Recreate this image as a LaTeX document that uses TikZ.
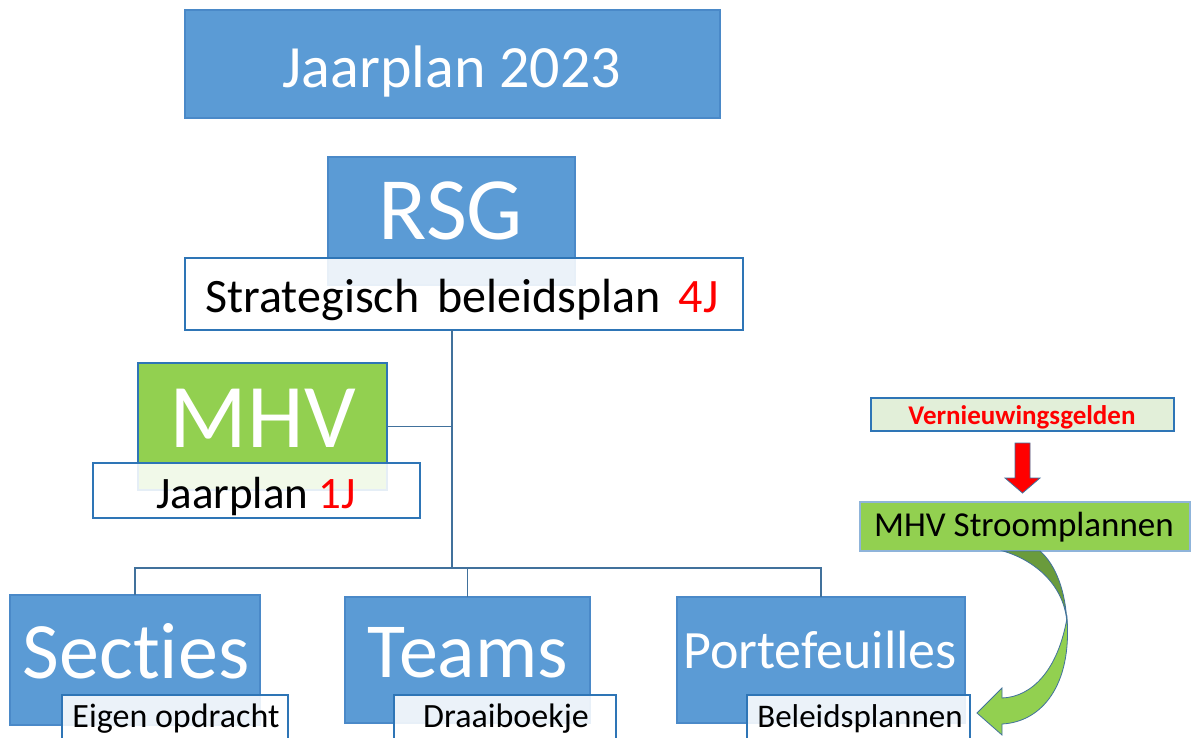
\documentclass[tikz,border=0pt]{standalone}
\usepackage{fontspec}
\setmainfont{Carlito}[Ligatures=NoCommon]
\usetikzlibrary{calc}
\definecolor{bfill}{HTML}{5B9BD5}
\definecolor{bdraw}{HTML}{4A89C8}
\definecolor{gfill}{HTML}{92D050}
\definecolor{lline}{HTML}{2E75B6}
\definecolor{cline}{HTML}{41719C}
\definecolor{vfill}{HTML}{E2EFD9}
\definecolor{sline}{HTML}{8FB4DA}
\definecolor{dgreen}{HTML}{6A9B3C}
\definecolor{redtxt}{HTML}{FF0000}
\begin{document}
\begin{tikzpicture}[x=1pt,y=-1pt,
  box/.style={rectangle, inner sep=0pt, outer sep=0pt, line width=1.2pt},
  bluebox/.style={box, fill=bfill, draw=bdraw},
  greenbox/.style={box, fill=gfill, draw=lline},
  labelbox/.style={box, fill=white, fill opacity=0.88, draw=lline, draw opacity=1},
  txt/.style={inner sep=0pt, outer sep=0pt, anchor=base},
  conn/.style={draw=cline, line width=1.6pt},
  sz/.style={font=\fontsize{#1}{#1}\selectfont}]
\clip (0,0) rectangle (1199,738);
\fill[white] (0,0) rectangle (1199,738);

% boxes
\node[bluebox, minimum width=535pt, minimum height=108pt] (jp) at (452.5,64) {};
\node[bluebox, minimum width=247pt, minimum height=128pt] (rsg) at (451.5,221) {};
\node[labelbox, minimum width=558pt, minimum height=72pt] (strat) at (464,294) {};
\node[greenbox, minimum width=249pt, minimum height=127pt] (mhv) at (262.5,426.5) {};
\node[labelbox, minimum width=327pt, minimum height=55pt] (jaar) at (256.5,490.5) {};

\node[bluebox, minimum width=250pt, minimum height=130pt] (secties) at (135,660) {};
\node[labelbox, minimum width=226pt, minimum height=65pt] (eigen) at (175,727.5) {};
\node[bluebox, minimum width=245pt, minimum height=126pt] (teams) at (467.5,660) {};
\node[labelbox, minimum width=222pt, minimum height=65pt] (draai) at (505,727.5) {};
\node[bluebox, minimum width=288pt, minimum height=126pt] (portef) at (821,660) {};
\node[labelbox, minimum width=223pt, minimum height=65pt] (beleid) at (858.5,727.5) {};

\node[box, fill=vfill, draw=lline, minimum width=303pt, minimum height=33pt] (vern) at (1022.5,414.5) {};
\node[box, fill=gfill, draw=sline, minimum width=330pt, minimum height=49pt] (stroom) at (1025,526.5) {};

% connectors
\coordinate (j) at (452,568);
\draw[conn] (strat.south -| j) -- (j);
\draw[conn] (mhv.east) -- (mhv.east -| j);
\draw[conn] (secties.north) |- (j) -| (portef.north);
\draw[conn] (teams.north) -- (teams.north |- j);

% red block arrow
\filldraw[fill=red, draw=cline, line width=0.8pt]
  ($(vern.south)+(-7.5,12)$) -- ($(vern.south)+(7.5,12)$) -- ($(vern.south)+(7.5,47)$)
  -- ($(vern.south)+(17.5,47)$) -- ($(vern.south |- stroom.north)+(0,-9)$)
  -- ($(vern.south)+(-17.5,47)$) -- ($(vern.south)+(-7.5,47)$) -- cycle;

% curved green arrow
\filldraw[fill=dgreen, draw=cline, line width=0.8pt]
  (1003,551) .. controls (1040,562) and (1066,590) .. (1067,625)
  .. controls (1066,592) and (1056,565) .. (1040,551) -- cycle;
\filldraw[fill=gfill, draw=cline, line width=0.8pt]
  (1067,618) .. controls (1072,685) and (1042,722) .. (1002,724)
  -- (1002,735) -- (977,713) -- (1002,688) -- (1002,698)
  .. controls (1032,697) and (1058,670) .. (1067,618) -- cycle;

% texts
\node[txt, sz=60, text=white] (tjp) at (452,88) {Jaarplan 2023};
\node[txt, sz=89, text=white] (trsg) at (451,240) {RSG};
\node[txt, sz=48] (tstrat) at (462,312) {Strategisch\hspace{0.15em} beleidsplan\hspace{0.15em} \textcolor{redtxt}{4J}};
\node[txt, sz=91, text=white] (tmhv) at (263,447) {MHV};
\node[txt, sz=45] (tjaar) at (256,508) {Jaarplan \textcolor{redtxt}{1J}};
\node[txt, sz=80, text=white] (tsecties) at (136,678) {Secties};
\node[txt, sz=78, text=white] (tteams) at (468,677) {Teams};
\node[txt, sz=54, text=white] (tportef) at (820,668) {Portefeuilles};
\node[txt, sz=34] (teigen) at (176,727) {Eigen opdracht};
\node[txt, sz=34] (tdraai) at (506,727) {Draaiboekje};
\node[txt, sz=33] (tbeleid) at (860,727) {Beleidsplannen};
\node[txt, sz=27, text=redtxt, font=\bfseries\fontsize{27}{27}\selectfont] (tvern) at (1022,424) {Vernieuwingsgelden};
\node[txt, sz=35] (tstroom) at (1024,536) {MHV Stroomplannen};
\end{tikzpicture}
\end{document}
